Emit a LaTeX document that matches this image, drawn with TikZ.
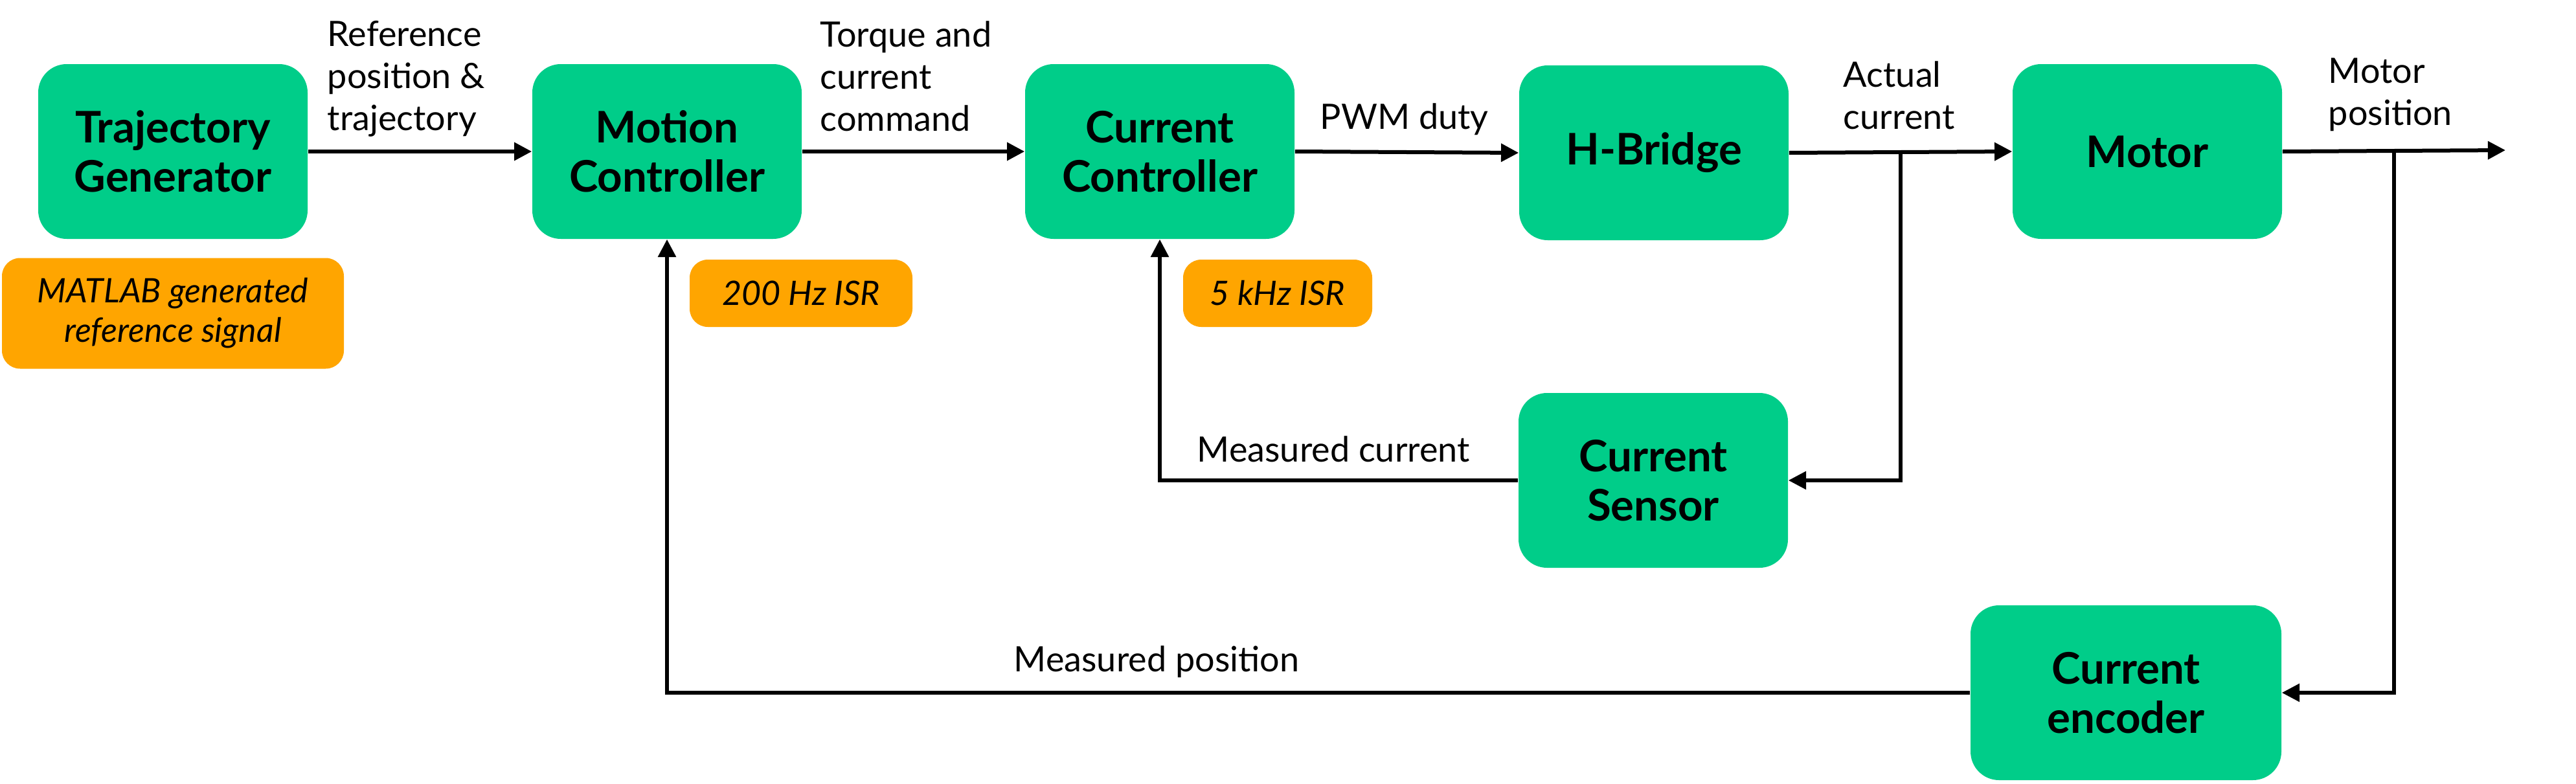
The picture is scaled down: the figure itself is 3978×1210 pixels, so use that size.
\documentclass[tikz,border=0pt]{standalone}
\usepackage{fontspec}
\setmainfont{Lato}
\usetikzlibrary{arrows.meta}

\definecolor{blockgreen}{HTML}{00CD89}
\definecolor{noteorange}{HTML}{FFA500}

\tikzset{
  block/.style={fill=blockgreen, rounded corners=11pt, minimum width=104pt,
    minimum height=67.5pt, inner sep=0pt, align=center,
    font=\bfseries\fontsize{16.8}{19}\selectfont},
  note/.style={fill=noteorange, rounded corners=7pt, inner sep=0pt, align=center,
    font=\itshape\fontsize{13}{15.25}\selectfont},
  sig/.style={inner sep=0pt, anchor=base west, align=left,
    font=\fontsize{13.5}{16.25}\selectfont},
  flow/.style={line width=1.5pt, -{Triangle[length=6.8pt,width=6.8pt]}},
  feed/.style={line width=1.3pt, -{Triangle[length=6.8pt,width=6.8pt]}}
}

\begin{document}
\begin{tikzpicture}[x=0.25pt,y=-0.25pt]
      \useasboundingbox (0,0) rectangle (3978,1210);
      % blocks
      \node[block] (traj) at (267,234) {Trajectory\\Generator};
      \node[block] (motion) at (1030,234) {Motion\\Controller};
      \node[block] (curctrl) at (1791,234) {Current\\Controller};
      \node[block] (hbridge) at (2554,236) {H-Bridge};
      \node[block] (motor) at (3316,234) {Motor};
      \node[block] (sensor) at (2553,742) {Current\\Sensor};
      \node[block, minimum width=120pt] (encoder) at (3283,1070) {Current\\encoder};
      % notes
      \node[note, minimum width=132pt, minimum height=42.75pt] (matlab) at (267,484) {MATLAB generated\\reference signal};
      \node[note, minimum width=86pt, minimum height=26pt] (isrmotion) at (1237,453) {200 Hz ISR};
      \node[note, minimum width=73pt, minimum height=26pt] (isrcurrent) at (1973,453) {5 kHz ISR};
      % signal labels (base = last line)
      \node[sig] (refsig) at (505,201) {Reference\\position \&\\trajectory};
      \node[sig] (torquesig) at (1266,202) {Torque and\\current\\command};
      \node[sig] (pwmsig) at (2038,199) {PWM duty};
      \node[sig] (actsig) at (2846,199) {Actual\\current};
      \node[sig] (possig) at (3595,193) {Motor\\position};
      \node[sig] (meascur) at (1848,713) {Measured current};
      \node[sig] (measpos) at (1565,1037) {Measured position};
      % forward path
      \coordinate (out) at (3869,232);
      \coordinate (tapcur) at (2935,236);
      \coordinate (tappos) at (3697,233);
      \draw[flow] (traj.east) -- (motion.west);
      \draw[flow] (motion.east) -- (curctrl.west);
      \draw[flow] (curctrl.east) -- (hbridge.west);
      \draw[flow] (hbridge.east) -- (motor.west);
      \draw[flow] (motor.east) -- (out);
      % feedback
      \draw[feed] (tapcur) |- (sensor.east);
      \draw[feed] (sensor.west) -| (curctrl.south);
      \draw[feed] (tappos) |- (encoder.east);
      \draw[feed] (encoder.west) -| (motion.south);
    \end{tikzpicture}
\end{document}
